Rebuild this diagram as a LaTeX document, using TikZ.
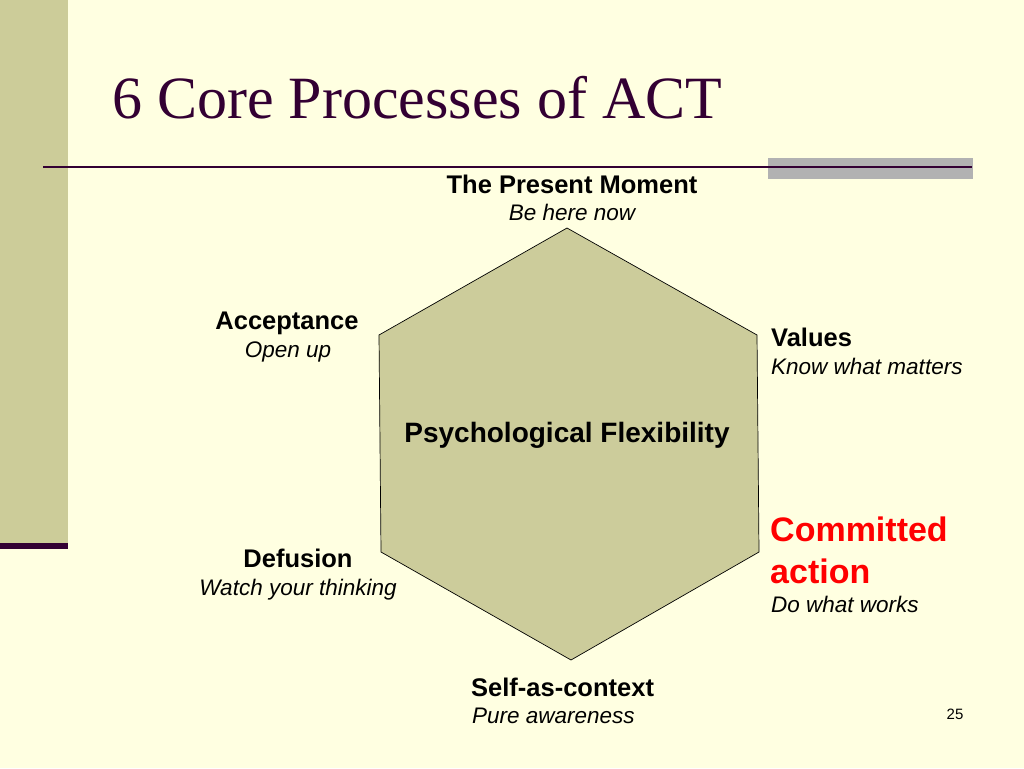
\documentclass[tikz,border=0pt]{standalone}
\usepackage{fontspec}
\setmainfont{Liberation Sans}
\newfontfamily\titlefont{Liberation Serif}
\definecolor{bgyellow}{RGB}{255,255,225}
\definecolor{olive}{RGB}{204,204,153}
\definecolor{hexfill}{RGB}{204,204,155}
\definecolor{darkpurple}{RGB}{51,0,51}
\definecolor{bargray}{RGB}{178,178,178}
\definecolor{actred}{RGB}{255,0,0}
\tikzset{
  head/.style={anchor=base, inner sep=0pt, font=\fontsize{25.5}{30}\selectfont\bfseries},
  sub/.style={anchor=base, inner sep=0pt, font=\fontsize{22.5}{27}\selectfont\itshape},
  bighead/.style={anchor=base west, inner sep=0pt, text=actred, font=\fontsize{34}{40}\selectfont\bfseries},
}
\begin{document}
\begin{tikzpicture}[x=1pt,y=-1pt]
\useasboundingbox (0,0) rectangle (1024,768);
\fill[bgyellow] (0,0) rectangle (1024,768);
% left bar
\fill[olive] (0,0) rectangle (68,545);
\fill[darkpurple] (0,543) rectangle (68,549);
% gray bar right
\fill[bargray] (768,158) rectangle (973,179);
% rule
\draw[darkpurple, line width=2pt] (43,167) -- (972,167);
% title
\node[anchor=base west, inner sep=0pt, text=darkpurple, font=\titlefont\fontsize{60}{66}\selectfont] (title) at (112,118) {6 Core Processes of ACT};
% hexagon
\coordinate (h1) at (567,228);
\coordinate (h2) at (757,335);
\coordinate (h3) at (759,552);
\coordinate (h4) at (571,660);
\coordinate (h5) at (381,552);
\coordinate (h6) at (379,335);
\draw[fill=hexfill, draw=black, line width=0.7pt, line join=miter] (h1) -- (h2) -- (h3) -- (h4) -- (h5) -- (h6) -- cycle;
\node[head, font=\fontsize{28}{32}\selectfont\bfseries] (pf) at (567,442) {Psychological Flexibility};
% labels
\node[head] (pm) at (572,193) {The Present Moment};
\node[sub] (pmsub) at (572,220) {Be here now};
\node[head] (acc) at (287,329) {Acceptance};
\node[sub] (accsub) at (288,357) {Open up};
\node[head, anchor=base west] (val) at (771,346) {Values};
\node[sub, anchor=base west] (valsub) at (771,374) {Know what matters};
\node[head] (def) at (298,567) {Defusion};
\node[sub] (defsub) at (298,595) {Watch your thinking};
\node[bighead] (com1) at (770,541) {Committed};
\node[bighead] (com2) at (770,583) {action};
\node[sub, anchor=base west] (comsub) at (771,612) {Do what works};
\node[head, anchor=base west] (sac) at (471,696) {Self-as-context};
\node[sub, anchor=base west] (sacsub) at (472,723) {Pure awareness};
\node[anchor=base, inner sep=0pt, font=\fontsize{15}{18}\selectfont] (pg) at (955,719) {25};
\end{tikzpicture}
\end{document}
